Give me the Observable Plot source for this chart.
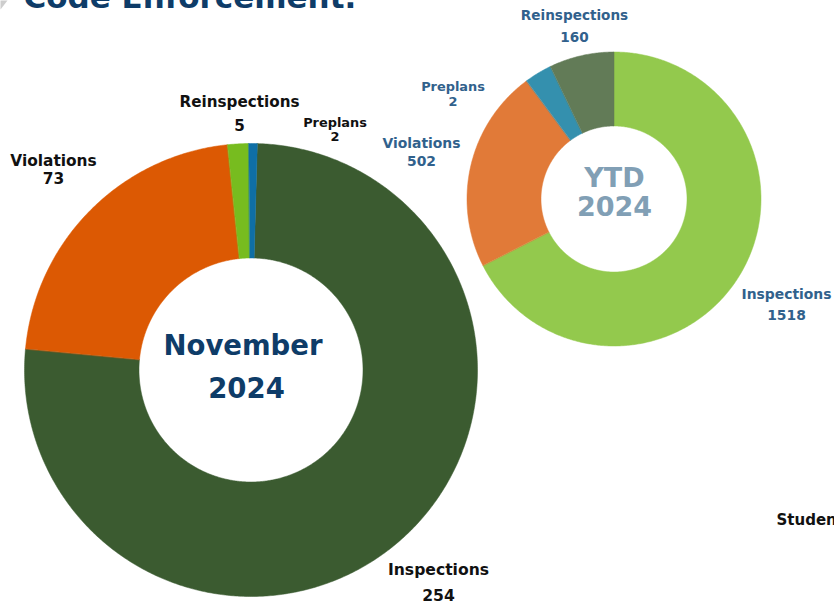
<!DOCTYPE html>
<html><head><meta charset="utf-8">
<script src="https://cdn.jsdelivr.net/npm/d3@7"></script>
<script src="https://cdn.jsdelivr.net/npm/@observablehq/plot@0.6"></script>
<style>html,body{margin:0;padding:0;background:#fff;} #chart svg{display:block}</style>
</head><body><div id="chart"></div>
<script>
// ---- Data ----
const titleText = "Code Enforcement.";

const novCategories = ["Inspections", "Violations", "Reinspections", "Preplans"];
const novValues = [254, 73, 5, 2];
const novColors = ["#3b5b30", "#dc5903", "#77bc1f", "#0f6fa5"];
const novCenterLines = ["November", "2024"];

const ytdCategories = ["Inspections", "Violations", "Preplans", "Reinspections"];
const ytdValues = [1518, 502, 2, 160];          // values as labelled
const ytdSliceValues = [1518, 502, 68, 160];    // slice sizes as drawn (Preplans slice is drawn larger than its label)
const ytdColors = ["#93c94d", "#e17a38", "#3490ae", "#627b57"];
const ytdCenterLines = ["YTD", "2024"];

const footText = "Student";

// ---- Layout ----
const W = 834, H = 605;
const novGeom = {cx: 250.5, cy: 369.5, r0: 112, r1: 226.5, start: 1.6};
const ytdGeom = {cx: 613.5, cy: 198.5, r0: 73, r1: 147, start: 0};
const novLabelPos = {
  Inspections: {x: 438, y: [569.5, 595.5], size: 15.6},
  Violations: {x: 53, y: [161, 178.5], size: 15.4},
  Reinspections: {x: 239, y: [101.5, 126], size: 15.2},
  Preplans: {x: 334.5, y: [122.2, 136.6], size: 12.9}
};
const ytdLabelPos = {
  Inspections: {x: 786, y: [294, 314.7], size: 13.9},
  Violations: {x: 421, y: [143, 161], size: 13.9},
  Preplans: {x: 452.5, y: [86.7, 101.5], size: 12.9},
  Reinspections: {x: 574, y: [15.3, 36.7], size: 13.6}
};
const novCenterPos = [{x: 242.5, y: 345.5}, {x: 246, y: 389}];
const ytdCenterPos = [{x: 614, y: 178.3}, {x: 614, y: 206.7}];

function slicePoints(cats, vals, colors, g, tag) {
  const a0 = g.start * Math.PI / 180;
  const pie = d3.pie().sort(null).value(d => d.v).startAngle(a0).endAngle(a0 + 2 * Math.PI);
  const arcs = pie(cats.map((c, i) => ({c, v: vals[i], color: colors[i]})));
  const pts = [];
  for (const a of arcs) {
    const n = Math.max(2, Math.ceil((a.endAngle - a.startAngle) / (Math.PI / 360)));
    const key = tag + a.data.c;
    for (let k = 0; k <= n; k++) {
      const t = a.startAngle + (a.endAngle - a.startAngle) * k / n;
      pts.push({key, color: a.data.color, x: g.cx + g.r1 * Math.sin(t), y: g.cy - g.r1 * Math.cos(t)});
    }
    for (let k = n; k >= 0; k--) {
      const t = a.startAngle + (a.endAngle - a.startAngle) * k / n;
      pts.push({key, color: a.data.color, x: g.cx + g.r0 * Math.sin(t), y: g.cy - g.r0 * Math.cos(t)});
    }
  }
  return pts;
}

function labelRows(cats, vals, pos) {
  const rows = [];
  cats.forEach((c, i) => {
    const p = pos[c];
    rows.push({x: p.x, y: p.y[0], text: c, size: p.size});
    rows.push({x: p.x, y: p.y[1], text: String(vals[i]), size: p.size});
  });
  return rows;
}

const novPts = slicePoints(novCategories, novValues, novColors, novGeom, "nov-");
const ytdPts = slicePoints(ytdCategories, ytdSliceValues, ytdColors, ytdGeom, "ytd-");
const novLabels = labelRows(novCategories, novValues, novLabelPos);
const ytdLabels = labelRows(ytdCategories, ytdValues, ytdLabelPos);
const novCenter = novCenterLines.map((t, i) => ({text: t, ...novCenterPos[i]}));
const ytdCenter = ytdCenterLines.map((t, i) => ({text: t, ...ytdCenterPos[i]}));
const decor = [{x: 0, y: 0}, {x: 7, y: 0}, {x: 0, y: 9}];

const chart = Plot.plot({
  width: W, height: H, margin: 0,
  x: {domain: [0, W], range: [0, W], axis: null},
  y: {domain: [0, H], range: [0, H], axis: null},
  color: {type: "identity"},
  style: {fontFamily: "'DejaVu Sans', sans-serif", background: "#fff", overflow: "hidden"},
  marks: [
    Plot.line(decor, {x: "x", y: "y", fill: "#cdcdcd", stroke: null, curve: "linear-closed"}),
    Plot.text([titleText], {x: () => 23, y: () => 7.8, text: d => d, textAnchor: "start", lineAnchor: "bottom",
      fontSize: 31, fontWeight: "bold", fill: "#0e3c68"}),
    Plot.line(novPts, {x: "x", y: "y", z: "key", fill: "color", stroke: "color", strokeWidth: 0.5, curve: "linear-closed"}),
    Plot.line(ytdPts, {x: "x", y: "y", z: "key", fill: "color", stroke: "color", strokeWidth: 0.5, curve: "linear-closed"}),
    Plot.text(novLabels, {x: "x", y: "y", text: "text", fontSize: d => d.size, fontWeight: "bold", fill: "#111111", lineAnchor: "middle"}),
    Plot.text(ytdLabels, {x: "x", y: "y", text: "text", fontSize: d => d.size, fontWeight: "bold", fill: "#31618c", lineAnchor: "middle"}),
    Plot.text(novCenter, {x: "x", y: "y", text: "text", fontSize: 27.5, fontWeight: "bold", fill: "#0e3c68", lineAnchor: "middle"}),
    Plot.text(ytdCenter, {x: "x", y: "y", text: "text", fontSize: 27, fontWeight: "bold", fill: "#819fb5", lineAnchor: "middle"}),
    Plot.text([footText], {x: () => 776, y: () => 519.5, text: d => d, textAnchor: "start", lineAnchor: "middle",
      fontSize: 15, fontWeight: "bold", fill: "#111111"})
  ]
});
document.getElementById("chart").appendChild(chart);
</script>
</body></html>
